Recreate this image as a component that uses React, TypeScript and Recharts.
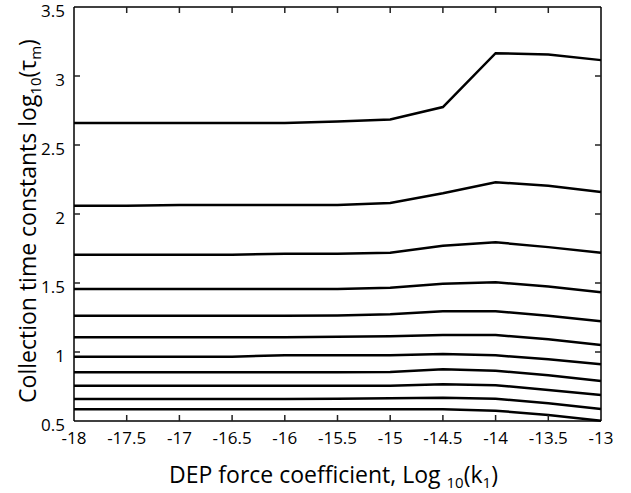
import React from "react";
import { ComposedChart, Line, Scatter, XAxis, YAxis } from "recharts";

const xValues = [-18, -17.5, -17, -16.5, -16, -15.5, -15, -14.5, -14, -13.5, -13];
const xTicks = [-18, -17.5, -17, -16.5, -16, -15.5, -15, -14.5, -14, -13.5, -13];
const yTicks = [0.5, 1, 1.5, 2, 2.5, 3, 3.5];

const line1 = [2.66, 2.66, 2.66, 2.66, 2.66, 2.67, 2.685, 2.775, 3.165, 3.155, 3.115];
const line2 = [2.06, 2.06, 2.065, 2.065, 2.065, 2.065, 2.08, 2.15, 2.23, 2.205, 2.16];
const line3 = [1.705, 1.705, 1.705, 1.705, 1.712, 1.712, 1.72, 1.77, 1.795, 1.76, 1.72];
const line4 = [1.457, 1.457, 1.457, 1.457, 1.457, 1.457, 1.466, 1.495, 1.505, 1.475, 1.433];
const line5 = [1.263, 1.263, 1.263, 1.263, 1.263, 1.265, 1.273, 1.295, 1.295, 1.263, 1.222];
const line6 = [1.107, 1.107, 1.107, 1.107, 1.107, 1.11, 1.114, 1.123, 1.123, 1.092, 1.051];
const line7 = [0.966, 0.966, 0.966, 0.966, 0.976, 0.976, 0.976, 0.986, 0.976, 0.947, 0.911];
const line8 = [0.853, 0.853, 0.853, 0.853, 0.853, 0.853, 0.855, 0.875, 0.865, 0.831, 0.79];
const line9 = [0.756, 0.756, 0.756, 0.756, 0.756, 0.756, 0.756, 0.766, 0.759, 0.725, 0.688];
const line10 = [0.659, 0.659, 0.659, 0.659, 0.659, 0.662, 0.664, 0.669, 0.662, 0.628, 0.587];
const line11 = [0.585, 0.585, 0.585, 0.585, 0.585, 0.585, 0.585, 0.585, 0.575, 0.543, 0.502];

const series = [line1, line2, line3, line4, line5, line6, line7, line8, line9, line10, line11];

const data = xValues.map((x, i) => {
  const row: Record<string, number> = { x };
  series.forEach((s, j) => {
    row[`s${j}`] = s[i];
  });
  return row;
});

const X_DOMAIN: [number, number] = [-18, -13];
const Y_DOMAIN: [number, number] = [0.5, 3.5];

const innerX = xTicks.slice(1, -1);
const innerY = yTicks.slice(1, -1);
const bottomTicks = innerX.map((t) => ({ x: t, y: Y_DOMAIN[0] }));
const topTicks = innerX.map((t) => ({ x: t, y: Y_DOMAIN[1] }));
const leftTicks = innerY.map((t) => ({ x: X_DOMAIN[0], y: t }));
const rightTicks = innerY.map((t) => ({ x: X_DOMAIN[1], y: t }));

const FONT = "'Open Sans', sans-serif";
const CHART_W = 631;
const CHART_H = 493;
const MARGIN = { top: 7, right: 30, left: 30, bottom: 42 };
const TICK_LEN = 6;
const TICK_STROKE = "#222";
const TICK_W = 1.5;

const makeTickShape = (dx: number, dy: number) => (props: any) => {
  const { cx, cy } = props;
  if (cx == null || cy == null) return <g />;
  return (
    <path
      d={`M${cx},${cy}L${cx + dx * TICK_LEN},${cy + dy * TICK_LEN}`}
      stroke={TICK_STROKE}
      strokeWidth={TICK_W}
      fill="none"
    />
  );
};

const XLabel = (props: any) => {
  const vb = props.viewBox || {};
  const cx = vb.x + vb.width / 2 - 4;
  return (
    <text x={cx} y={483} textAnchor="middle" fontFamily={FONT} fontSize={23} fill="#000">
      DEP force coefficient, Log{" "}
      <tspan fontSize={15} dy={5}>10</tspan>
      <tspan dy={-5}>(k</tspan>
      <tspan fontSize={15} dy={5}>1</tspan>
      <tspan dy={-5}>)</tspan>
    </text>
  );
};

const YLabel = (props: any) => {
  const vb = props.viewBox || {};
  const cy = vb.y + vb.height / 2 + 7;
  const cx = 36;
  return (
    <text
      x={cx}
      y={cy}
      textAnchor="middle"
      fontFamily={FONT}
      fontSize={23}
      fill="#000"
      transform={`rotate(-90, ${cx}, ${cy})`}
    >
      Collection time constants log
      <tspan fontSize={15} dy={5}>10</tspan>
      <tspan dy={-5}>(τ</tspan>
      <tspan fontSize={15} dy={5}>m</tspan>
      <tspan dy={-5}>)</tspan>
    </text>
  );
};

const YTick = (props: any) => {
  const { x, y, payload } = props;
  return (
    <text x={x} y={y + 4} dy="0.355em" textAnchor="end" fontFamily={FONT} fontSize={17} fill="#000">
      {payload.value}
    </text>
  );
};

const XTick = (props: any) => {
  const { x, y, payload } = props;
  return (
    <text x={x} y={y} dy="0.71em" textAnchor="middle" fontFamily={FONT} fontSize={17} fill="#000">
      {payload.value}
    </text>
  );
};

const NoTick = () => <g />;

const axisLineStyle = { stroke: "#000", strokeWidth: 1.5 };

export default function App() {
  return (
    <div style={{ position: "absolute", left: 0, top: 0, width: CHART_W, height: CHART_H, background: "#fff" }}>
      <ComposedChart width={CHART_W} height={CHART_H} data={data} margin={MARGIN}>
        <XAxis
          xAxisId="bottom"
          dataKey="x"
          type="number"
          domain={X_DOMAIN}
          ticks={xTicks}
          orientation="bottom"
          height={30}
          tickSize={0}
          tickMargin={11}
          axisLine={axisLineStyle}
          tickLine={false}
          tick={<XTick />}
          interval={0}
          label={<XLabel />}
        />
        <XAxis
          xAxisId="topIn"
          dataKey="x"
          type="number"
          domain={X_DOMAIN}
          orientation="top"
          mirror
          axisLine={axisLineStyle}
          tickLine={false}
          tick={NoTick}
        />
        <YAxis
          yAxisId="left"
          type="number"
          domain={Y_DOMAIN}
          ticks={yTicks}
          orientation="left"
          width={44}
          tickSize={0}
          tickMargin={9}
          axisLine={axisLineStyle}
          tickLine={false}
          tick={<YTick />}
          interval={0}
          label={<YLabel />}
        />
        <YAxis
          yAxisId="rightIn"
          type="number"
          domain={Y_DOMAIN}
          orientation="right"
          mirror
          axisLine={axisLineStyle}
          tickLine={false}
          tick={NoTick}
        />
        {series.map((_, j) => (
          <Line
            key={j}
            xAxisId="bottom"
            yAxisId="left"
            type="linear"
            dataKey={`s${j}`}
            stroke="#000"
            strokeWidth={2.5}
            dot={false}
            activeDot={false}
            isAnimationActive={false}
          />
        ))}
        <Scatter
          xAxisId="bottom"
          yAxisId="left"
          data={bottomTicks}
          dataKey="y"
          shape={makeTickShape(0, -1)}
          isAnimationActive={false}
        />
        <Scatter
          xAxisId="bottom"
          yAxisId="left"
          data={topTicks}
          dataKey="y"
          shape={makeTickShape(0, 1)}
          isAnimationActive={false}
        />
        <Scatter
          xAxisId="bottom"
          yAxisId="left"
          data={leftTicks}
          dataKey="y"
          shape={makeTickShape(1, 0)}
          isAnimationActive={false}
        />
        <Scatter
          xAxisId="bottom"
          yAxisId="left"
          data={rightTicks}
          dataKey="y"
          shape={makeTickShape(-1, 0)}
          isAnimationActive={false}
        />
      </ComposedChart>
    </div>
  );
}
